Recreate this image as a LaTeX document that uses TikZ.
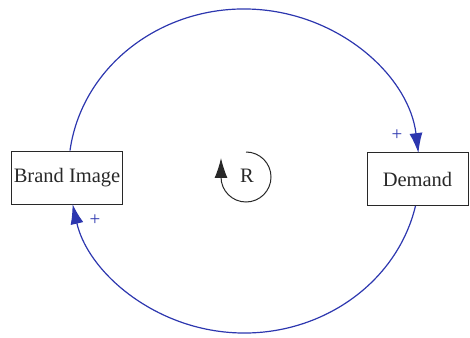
\documentclass[tikz,border=0pt]{standalone}
\usepackage{fontspec}
\setmainfont{Liberation Serif}
\usetikzlibrary{arrows.meta}
\definecolor{loopblue}{RGB}{45,55,175}
\definecolor{textgray}{RGB}{40,40,40}

\begin{document}
\begin{tikzpicture}[x=1pt, y=1pt,
    varbox/.style={rectangle, draw=textgray, line width=0.9pt, inner sep=2pt,
                   minimum height=53pt, font=\fontsize{20.5}{24}\selectfont, text=textgray},
    link/.style={loopblue, line width=1.2pt, -{Latex[length=20pt, width=13pt]}},
    polarity/.style={loopblue, font=\fontsize{19}{19}\selectfont},
    looparr/.style={textgray, line width=1pt, -{Latex[length=20pt, width=13pt]}}
  ]
    \useasboundingbox (0,0) rectangle (470,337);

    % Variables
    \node[varbox, minimum width=110pt] (brand)  at (67, 159.5) {Brand Image};
    \node[varbox, minimum width=101pt] (demand) at (417.5, 158) {Demand};

    % Loop label
    \node[font=\fontsize{20.5}{24}\selectfont, text=textgray] (loop) at (247, 161) {R};

    % Brand Image -> Demand
    \draw[link] ([xshift=3pt]brand.north)
      arc[start angle=172.6, end angle=6.5, x radius=175.5, y radius=162.5];
    \node[polarity] (plusd) at (397, 202) {+};

    % Demand -> Brand Image
    \draw[link] ([xshift=-2pt]demand.south)
      arc[start angle=-12.6, end angle=-168.1, x radius=175.5, y radius=162.5];
    \node[polarity] (plusb) at (95, 117) {+};

    % Reinforcing loop arrow
    \draw[looparr] ([xshift=-1pt, yshift=24pt]loop.center)
      arc[start angle=90, end angle=-180, radius=25] -- ++(0,19);
  \end{tikzpicture}
\end{document}
